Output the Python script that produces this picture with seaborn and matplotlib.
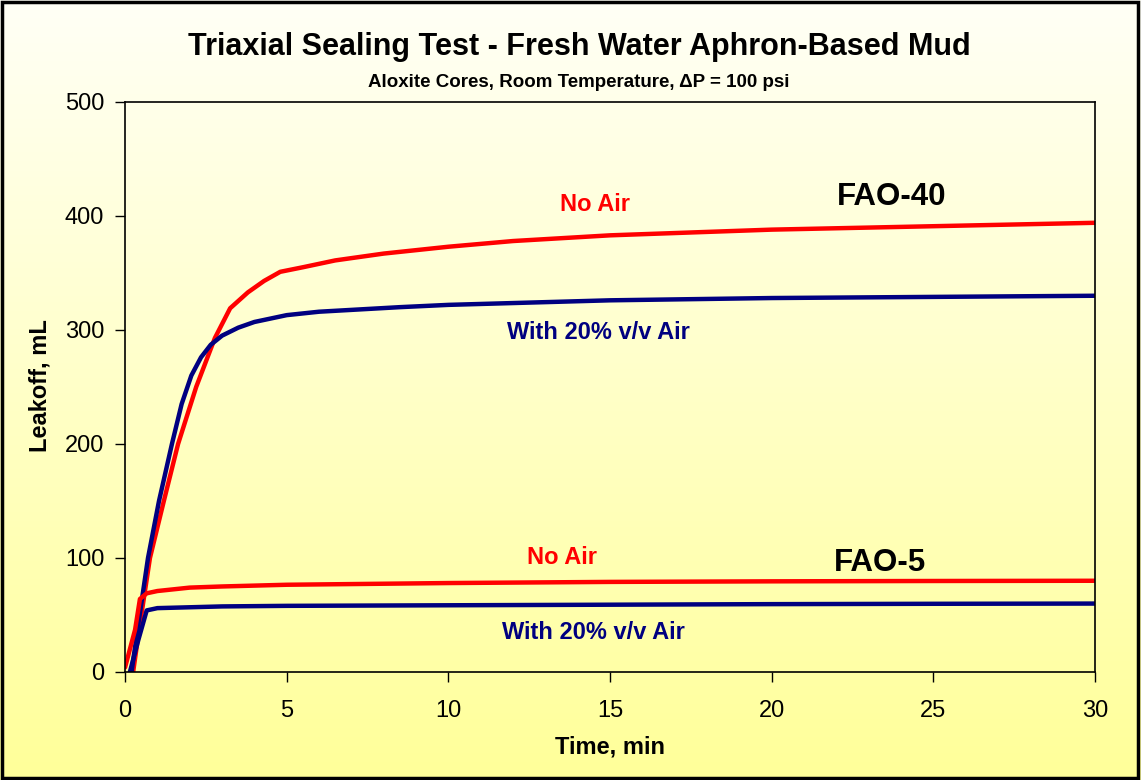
import numpy as np
import pandas as pd
import seaborn as sns
import matplotlib.pyplot as plt
from matplotlib.patches import Rectangle

sns.set_style("ticks")
plt.rcParams['font.family'] = ['Liberation Sans', 'DejaVu Sans']
plt.rcParams['text.color'] = 'black'
plt.rcParams['axes.labelcolor'] = 'black'
plt.rcParams['xtick.color'] = 'black'
plt.rcParams['ytick.color'] = 'black'

# FAO-40, no air
t40_noair = [0.25, 0.45, 0.77, 1.2, 1.64, 2.2, 2.78, 3.25, 3.8, 4.3, 4.8, 5.5, 6.5, 8, 10, 12, 15, 20, 25, 30]
v40_noair = [0, 40, 100, 150, 200, 250, 293, 319, 333, 343, 351, 355, 361, 367, 373, 378, 383, 388, 391, 394]
# FAO-40, with 20% v/v air
t40_air = [0.2, 0.4, 0.71, 1.05, 1.45, 1.75, 2.05, 2.35, 2.65, 3.0, 3.5, 4.0, 5.0, 6.0, 8.5, 10, 15, 20, 25, 30]
v40_air = [0, 40, 100, 150, 200, 235, 260, 276, 287, 295, 302, 307, 313, 316, 320, 322, 326, 328, 329, 330]
# FAO-5, no air
t5_noair = [0, 0.15, 0.31, 0.46, 0.67, 1, 2, 3, 5, 10, 15, 20, 25, 30]
v5_noair = [4, 20, 37, 64, 69, 71, 74, 75, 76.5, 78, 79, 79.5, 79.8, 80]
# FAO-5, with 20% v/v air
t5_air = [0.15, 0.41, 0.67, 1, 3, 5, 10, 15, 20, 25, 30]
v5_air = [0, 28, 54, 56, 57.5, 58, 58.5, 59, 59.5, 59.8, 60]

RED = "#FF0000"
NAVY = "#000080"

fig = plt.figure(figsize=(11.41, 7.80), dpi=100)

# background gradient
bg = fig.add_axes([0, 0, 1, 1], zorder=-1)
grad = np.linspace(0, 1, 256).reshape(-1, 1)
top = np.array([1.0, 1.0, 0.965])
bot = np.array([1.0, 1.0, 0.60])
img = top + (bot - top) * grad[:, :, None]
bg.imshow(img, aspect="auto", extent=[0, 1, 0, 1])
bg.set_axis_off()

ax = fig.add_axes([0.1096, 0.1385, 0.8501, 0.7308])
ax.set_facecolor("none")

series = [
    (t40_noair, v40_noair, RED),
    (t40_air, v40_air, NAVY),
    (t5_noair, v5_noair, RED),
    (t5_air, v5_air, NAVY),
]
for t, v, c in series:
    df = pd.DataFrame({"t": t, "v": v})
    sns.lineplot(data=df, x="t", y="v", color=c, lw=3.2, sort=False,
                 estimator=None, ax=ax, solid_capstyle="round")

ax.set_xlim(0, 30)
ax.set_ylim(0, 500)
ax.set_xticks(range(0, 31, 5))
ax.set_yticks(range(0, 501, 100))
ax.tick_params(labelsize=17, length=7, width=1, direction="out")
ax.tick_params(axis="x", pad=13)
ax.tick_params(axis="y", pad=8)
for s in ax.spines.values():
    s.set_color("black")
    s.set_linewidth(1.2)
ax.set_xlabel("Time, min", fontsize=17, fontweight="bold")
ax.set_ylabel("Leakoff, mL", fontsize=17, fontweight="bold")
ax.xaxis.set_label_coords(0.5, -0.112)
ax.yaxis.set_label_coords(-0.076, 0.502)

ax.text(14.55, 410, "No Air", color=RED, fontsize=17, fontweight="bold", ha="center", va="center")
ax.text(14.65, 298, "With 20% v/v Air", color=NAVY, fontsize=17, fontweight="bold", ha="center", va="center")
ax.text(13.5, 100, "No Air", color=RED, fontsize=17, fontweight="bold", ha="center", va="center")
ax.text(14.5, 35, "With 20% v/v Air", color=NAVY, fontsize=17, fontweight="bold", ha="center", va="center")
ax.text(23.7, 417, "FAO-40", color="black", fontsize=22.5, fontweight="bold", ha="center", va="center")
ax.text(23.35, 96, "FAO-5", color="black", fontsize=22.5, fontweight="bold", ha="center", va="center")

fig.text(0.508, 0.929, "Triaxial Sealing Test - Fresh Water Aphron-Based Mud",
         fontsize=22, fontweight="bold", ha="center", va="baseline")
fig.text(0.507, 0.889, "Aloxite Cores, Room Temperature, \u0394P = 100 psi",
         fontsize=13.5, fontweight="bold", ha="center", va="baseline")

fig.patches.append(Rectangle((0.002, 0.003), 0.995, 0.994, transform=fig.transFigure,
                             fill=False, edgecolor="black", lw=2.5))

fig.savefig("out.png", dpi=100)
